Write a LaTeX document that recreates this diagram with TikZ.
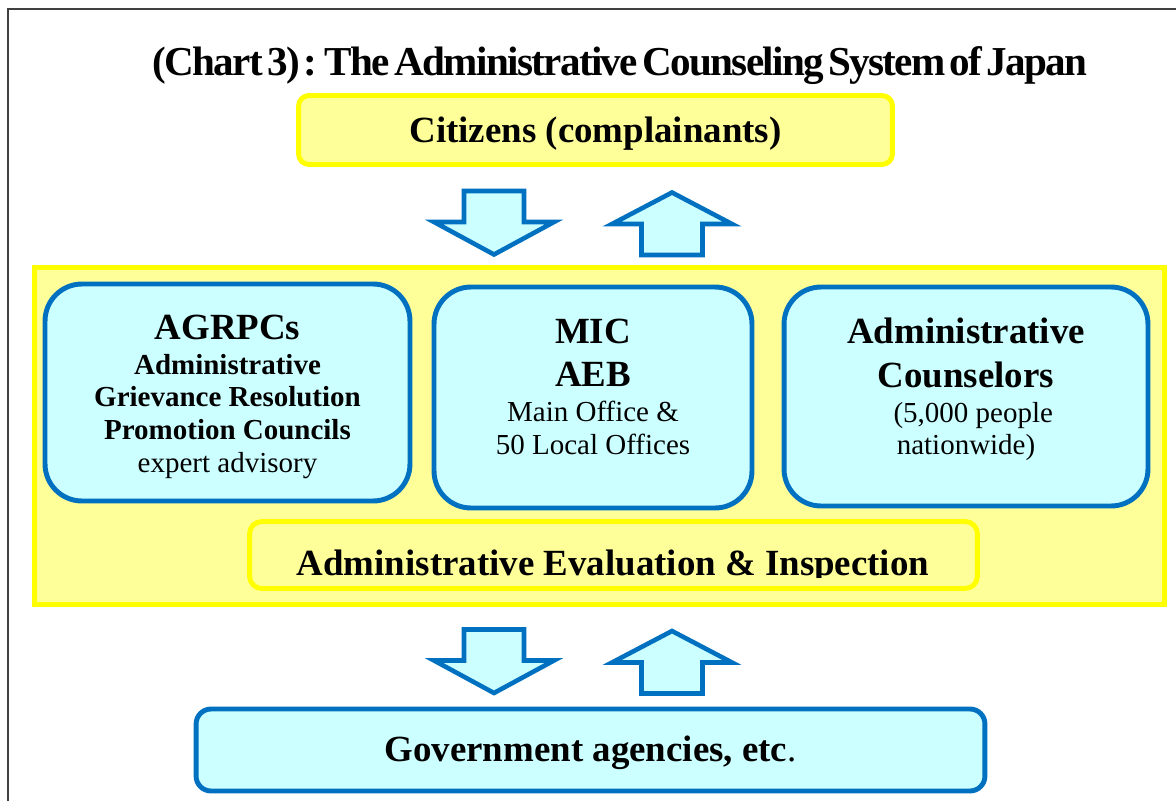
\documentclass[tikz,border=0pt]{standalone}
\usepackage{fontspec}
\setmainfont{Liberation Serif}
\newfontfamily\titlefont[LetterSpace=-4,WordSpace=0.5]{Liberation Serif}
\usetikzlibrary{positioning}

\definecolor{chartyellow}{HTML}{FFFF00}
\definecolor{paleyellow}{HTML}{FFFF99}
\definecolor{chartblue}{HTML}{0070C0}
\definecolor{palecyan}{HTML}{CCFFFF}

\begin{document}
\begin{tikzpicture}[x=0.02cm,y=-0.02cm,
    yellow box/.style={draw=chartyellow,fill=paleyellow,line width=2.8pt,inner sep=0pt},
    blue box/.style={draw=chartblue,fill=palecyan,line width=2.8pt,inner sep=0pt,rounded corners=21pt},
    box text/.style={align=center,inner sep=0pt,font=\fontsize{16.5}{18.7}\selectfont},
    big text/.style={font=\fontsize{21}{24}\selectfont\bfseries},
    block arrow/.style={draw=chartblue,fill=palecyan,line width=2.6pt},
    down arrow/.pic={\path[block arrow] (-30,-32) -- (30,-32) -- (30,-1) -- (60,-1)
        -- (0,31.5) -- (-60,-1) -- (-30,-1) -- cycle;},
    up arrow/.pic={\path[block arrow] (0,-31) -- (60,0.5) -- (30.5,0.5) -- (30.5,31.5)
        -- (-30.5,31.5) -- (-30.5,0.5) -- (-60,0.5) -- cycle;}]
    \useasboundingbox (0,0) rectangle (1176,801);
    % frame
    \draw[line width=0.8pt,black!75] (8,801) -- (8,9) -- (1176,9);

    \node[anchor=base] (title) at (620,75)
        {\titlefont\fontsize{23.4}{26}\selectfont\bfseries (Chart 3) : The Administrative Counseling System of Japan};

    \node[yellow box,rounded corners=6pt,minimum width=11.88cm,minimum height=1.38cm,big text,text depth=0pt]
        (citizens) at (595.5,130) {Citizens (complainants)};

    \pic at (494,223) {down arrow};
    \pic at (672,223.5) {up arrow};

    % middle block
    \node[yellow box,minimum width=22.6cm,minimum height=6.74cm] (mic area) at (599.5,436) {};
    \node[blue box,minimum width=7.3cm,minimum height=4.34cm] (agrpc) at (227.5,392.5) {};
    \node[blue box,minimum width=6.36cm,minimum height=4.42cm] (mic) at (593,397.5) {};
    \node[blue box,minimum width=7.28cm,minimum height=4.38cm] (counselors) at (966,396.5) {};

    \node[box text,yshift=-2.5pt] (agrpc text) at (agrpc.center)
        {{\fontsize{21}{24}\selectfont\bfseries AGRPCs}\\[1pt] \textbf{Administrative}\\
         \textbf{Grievance Resolution}\\ \textbf{Promotion Councils}\\ expert advisory};
    \node[box text,yshift=6pt] (mic text) at (mic.center)
        {{\fontsize{21}{24}\selectfont\bfseries MIC}\\[5.7pt] {\fontsize{21}{24}\selectfont\bfseries AEB}\\[1.7pt]
         Main Office \&\\ 50 Local Offices};
    \node[box text,yshift=4pt] (counselors text) at (counselors.center)
        {{\fontsize{21}{24}\selectfont\bfseries Administrative}\\[6.3pt] {\fontsize{21}{24}\selectfont\bfseries Counselors}\\[1.1pt]
         \hspace*{0.5em}(5,000 people\\ nationwide)};

    \node[yellow box,rounded corners=7pt,minimum width=14.56cm,minimum height=1.34cm]
        (inspection) at (613.5,555) {};
    \begin{scope}
        \clip (249,521) rectangle (978,577);
        \node[anchor=base,big text] (inspection text) at (613,575) {Administrative Evaluation \& Inspection};
    \end{scope}

    \pic at (494,661.5) {down arrow};
    \pic at (672,662) {up arrow};

    \node[blue box,rounded corners=8.5pt,minimum width=15.78cm,minimum height=1.64cm,big text,text depth=2pt]
        (agencies) at (590.5,750) {Government agencies, etc{\mdseries .}};
\end{tikzpicture}
\end{document}
